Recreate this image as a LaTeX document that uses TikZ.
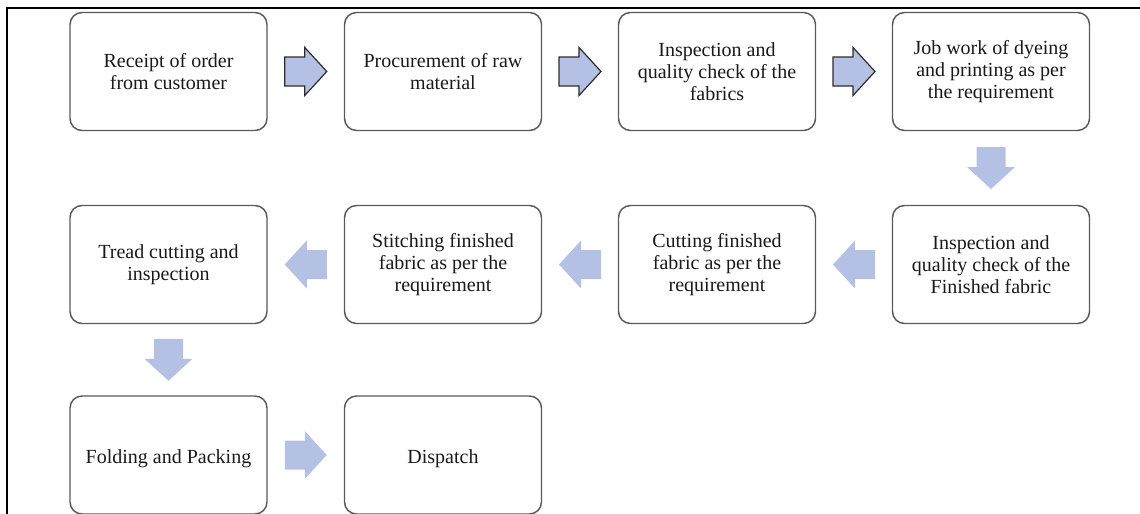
\documentclass[tikz,border=0pt]{standalone}
\usepackage{fontspec}
\setmainfont{Liberation Serif}
\newfontfamily\tnrfont{Liberation Serif}
\usetikzlibrary{calc}
\definecolor{boxline}{RGB}{89,89,89}
\definecolor{arrowfill}{RGB}{180,193,228}
\definecolor{arrowline}{RGB}{45,45,45}
\newcommand\lowtext[1]{\raisebox{-2.6pt}[\height][\depth]{#1}}
\begin{document}
\begin{tikzpicture}[x=0.75pt,y=-0.75pt,
  stepbox/.style={draw=boxline, line width=1.1pt, rounded corners=9pt,
    minimum width=147.75pt, minimum height=88.5pt, align=center,
    font=\tnrfont\fontsize{15}{16.5}\selectfont, text=black!90, inner sep=0pt},
  barrow/.pic={\path[pic actions] (-21,-14.5) -- (-1,-14.5) -- (-1,-24) -- (21,0)
      -- (-1,24) -- (-1,14.5) -- (-21,14.5) -- cycle;},
  outlinedarrow/.style={fill=arrowfill, draw=arrowline, line width=0.9pt, line join=miter},
  flatarrow/.style={fill=arrowfill, draw=none},
  frameline/.style={draw=black, line width=1.6pt}]
\useasboundingbox (0,0) rectangle (1140,514);
\clip (0,0) rectangle (1140,514);
% frame
\coordinate (fl) at (7,514);
\coordinate (fc) at (7,8);
\coordinate (fr) at (1140,8);
\draw[frameline] (fl) -- (fc) -- (fr);
% row 1
\node[stepbox] (n1) at (168.5,71.5) {Receipt of order\\from customer};
\node[stepbox] (n2) at (443,71.5) {Procurement of raw\\material};
\node[stepbox] (n3) at (717,71.5) {Inspection and\\quality check of the\\fabrics};
\node[stepbox] (n4) at (991,71.5) {Job work of dyeing\\and printing as per\\the requirement};
% row 2
\node[stepbox] (n5) at (991,264.5) {Inspection and\\quality check of the\\Finished fabric};
\node[stepbox] (n6) at (717,264.5) {Cutting finished\\fabric as per the\\requirement};
\node[stepbox] (n7) at (443,264.5) {Stitching finished\\fabric as per the\\requirement};
\node[stepbox] (n8) at (168.5,264.5) {Tread cutting and\\inspection};
% row 3
\node[stepbox] (n9) at (168.5,455) {\lowtext{Folding and Packing}};
\node[stepbox] (n10) at (443,455) {\lowtext{Dispatch}};
% arrows
\pic[outlinedarrow] at ($(n1.east)!0.5!(n2.west)$) {barrow};
\pic[outlinedarrow] at ($(n2.east)!0.5!(n3.west)$) {barrow};
\pic[outlinedarrow] at ($(n3.east)!0.5!(n4.west)$) {barrow};
\pic[flatarrow, rotate=-90] at ($(n4.south)!0.5!(n5.north)$) {barrow};
\pic[flatarrow, rotate=180] at ($(n5.west)!0.5!(n6.east)$) {barrow};
\pic[flatarrow, rotate=180] at ($(n6.west)!0.5!(n7.east)$) {barrow};
\pic[flatarrow, rotate=180] at ($(n7.west)!0.5!(n8.east)$) {barrow};
\pic[flatarrow, rotate=-90] at ($(n8.south)!0.5!(n9.north)$) {barrow};
\pic[flatarrow] at ($(n9.east)!0.5!(n10.west)$) {barrow};
\end{tikzpicture}
\end{document}
